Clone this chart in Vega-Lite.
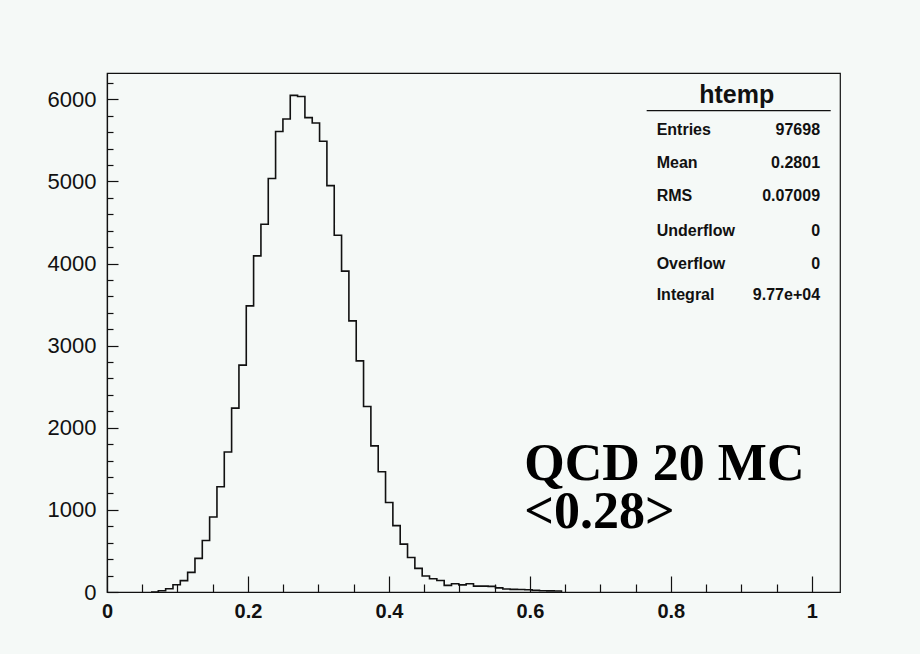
{
  "$schema": "https://vega.github.io/schema/vega-lite/v6.json",
  "width": 733,
  "height": 519,
  "autosize": {"type": "none"},
  "padding": {"left": 107, "top": 73, "right": 80, "bottom": 62},
  "background": "#f5f9f7",
  "config": {
    "view": {"stroke": "#111111", "strokeWidth": 1.2, "fill": "#f5f9f7"},
    "axis": {"grid": false, "title": null, "domainColor": "#111111", "tickColor": "#111111", "labelColor": "#111111", "labelFont": "Liberation Sans", "domainWidth": 1.2, "tickWidth": 1.2}
  },
  "datasets": {
    "hist": [
      {"x0": 0.0624, "count": 0}, {"x0": 0.0728, "count": 16}, {"x0": 0.0832, "count": 40}, {"x0": 0.0936, "count": 89},
      {"x0": 0.104, "count": 138}, {"x0": 0.1144, "count": 239}, {"x0": 0.1248, "count": 409}, {"x0": 0.1352, "count": 628},
      {"x0": 0.1456, "count": 913}, {"x0": 0.156, "count": 1281}, {"x0": 0.1664, "count": 1704}, {"x0": 0.1768, "count": 2239},
      {"x0": 0.1872, "count": 2763}, {"x0": 0.1976, "count": 3484}, {"x0": 0.208, "count": 4093}, {"x0": 0.2184, "count": 4479},
      {"x0": 0.2288, "count": 5035}, {"x0": 0.2392, "count": 5607}, {"x0": 0.2496, "count": 5760}, {"x0": 0.26, "count": 6048},
      {"x0": 0.2704, "count": 6033}, {"x0": 0.2808, "count": 5777}, {"x0": 0.2912, "count": 5711}, {"x0": 0.3016, "count": 5489},
      {"x0": 0.312, "count": 4949}, {"x0": 0.3224, "count": 4345}, {"x0": 0.3328, "count": 3907}, {"x0": 0.3432, "count": 3302},
      {"x0": 0.3536, "count": 2815}, {"x0": 0.364, "count": 2259}, {"x0": 0.3744, "count": 1780}, {"x0": 0.3848, "count": 1464},
      {"x0": 0.3952, "count": 1090}, {"x0": 0.4056, "count": 808}, {"x0": 0.416, "count": 583}, {"x0": 0.4264, "count": 420},
      {"x0": 0.4368, "count": 288}, {"x0": 0.4472, "count": 195}, {"x0": 0.4576, "count": 162}, {"x0": 0.468, "count": 140},
      {"x0": 0.4784, "count": 81}, {"x0": 0.4888, "count": 101}, {"x0": 0.4992, "count": 87}, {"x0": 0.5096, "count": 101},
      {"x0": 0.52, "count": 72}, {"x0": 0.5304, "count": 72}, {"x0": 0.5408, "count": 68}, {"x0": 0.5512, "count": 50},
      {"x0": 0.5616, "count": 36}, {"x0": 0.572, "count": 32}, {"x0": 0.5824, "count": 30}, {"x0": 0.5928, "count": 28},
      {"x0": 0.6032, "count": 20}, {"x0": 0.6136, "count": 16}, {"x0": 0.624, "count": 14}, {"x0": 0.6344, "count": 12},
      {"x0": 0.6448, "count": 0}
    ],
    "stats": [
      {"stat": "Entries", "value": "97698", "y": 5565},
      {"stat": "Mean", "value": "0.2801", "y": 5160},
      {"stat": "RMS", "value": "0.07009", "y": 4761},
      {"stat": "Underflow", "value": "0", "y": 4339},
      {"stat": "Overflow", "value": "0", "y": 3933},
      {"stat": "Integral", "value": "9.77e+04", "y": 3556}
    ],
    "notes": [
      {"note": "QCD 20 MC", "x": 0.5921, "y": 1364},
      {"note": "<0.28>", "x": 0.5921, "y": 780}
    ]
  },
  "layer": [
    {
      "data": {"name": "hist"},
      "mark": {"type": "line", "interpolate": "step-after", "color": "#111111", "strokeWidth": 1.6},
      "encoding": {
        "x": {
          "field": "x0", "type": "quantitative",
          "scale": {"domain": [0, 1.04], "nice": false, "zero": false},
          "axis": {
            "values": [0, 0.05, 0.1, 0.15, 0.2, 0.25, 0.3, 0.35, 0.4, 0.45, 0.5, 0.55, 0.6, 0.65, 0.7, 0.75, 0.8, 0.85, 0.9, 0.95, 1.0],
            "tickCount": 200,
            "tickSize": {"condition": {"test": "abs(datum.value*5-round(datum.value*5))<1e-6", "value": -16}, "value": -8},
            "labelExpr": "abs(datum.value*5-round(datum.value*5))<1e-6 ? format(datum.value, '.1~f') : ''",
            "labelOverlap": false,
            "labelFlush": false,
            "labelPadding": 25,
            "labelFontSize": 20,
            "labelFontWeight": "bold",
            "labelBaseline": "top"
          }
        },
        "y": {
          "field": "count", "type": "quantitative",
          "scale": {"domain": [0, 6320], "nice": false},
          "axis": {
            "values": [0, 200, 400, 600, 800, 1000, 1200, 1400, 1600, 1800, 2000, 2200, 2400, 2600, 2800, 3000, 3200, 3400, 3600, 3800, 4000, 4200, 4400, 4600, 4800, 5000, 5200, 5400, 5600, 5800, 6000, 6200],
            "tickCount": 200,
            "tickSize": {"condition": {"test": "datum.value % 1000 === 0", "value": -11}, "value": -6},
            "labelExpr": "datum.value % 1000 === 0 ? format(datum.value, 'd') : ''",
            "labelOverlap": false,
            "labelFlush": false,
            "labelPadding": 22,
            "labelFontSize": 22,
            "labelFontWeight": "normal"
          }
        }
      }
    },
    {
      "data": {"name": "notes"},
      "mark": {"type": "text", "font": "Liberation Serif", "fontWeight": "bold", "fontSize": 52, "align": "left", "baseline": "alphabetic", "color": "#000000"},
      "encoding": {
        "x": {"field": "x", "type": "quantitative"},
        "y": {"field": "y", "type": "quantitative"},
        "text": {"field": "note"}
      }
    },
    {
      "data": {"values": [{"title": "htemp"}]},
      "mark": {"type": "text", "font": "Liberation Sans", "fontWeight": "bold", "fontSize": 25, "align": "center", "baseline": "alphabetic", "color": "#111111"},
      "encoding": {
        "x": {"datum": 0.8934, "type": "quantitative"},
        "y": {"datum": 5951, "type": "quantitative"},
        "text": {"field": "title"}
      }
    },
    {
      "data": {"values": [{"title": "htemp"}]},
      "mark": {"type": "rule", "color": "#111111", "strokeWidth": 1.2},
      "encoding": {
        "x": {"datum": 0.7657, "type": "quantitative"},
        "x2": {"datum": 1.0268},
        "y": {"datum": 5861, "type": "quantitative"}
      }
    },
    {
      "data": {"name": "stats"},
      "mark": {"type": "text", "font": "Liberation Sans", "fontWeight": "bold", "fontSize": 16, "align": "left", "baseline": "alphabetic", "color": "#111111"},
      "encoding": {
        "x": {"datum": 0.7799, "type": "quantitative"},
        "y": {"field": "y", "type": "quantitative"},
        "text": {"field": "stat"}
      }
    },
    {
      "data": {"name": "stats"},
      "mark": {"type": "text", "font": "Liberation Sans", "fontWeight": "bold", "fontSize": 16, "align": "right", "baseline": "alphabetic", "color": "#111111"},
      "encoding": {
        "x": {"datum": 1.0117, "type": "quantitative"},
        "y": {"field": "y", "type": "quantitative"},
        "text": {"field": "value"}
      }
    }
  ]
}
